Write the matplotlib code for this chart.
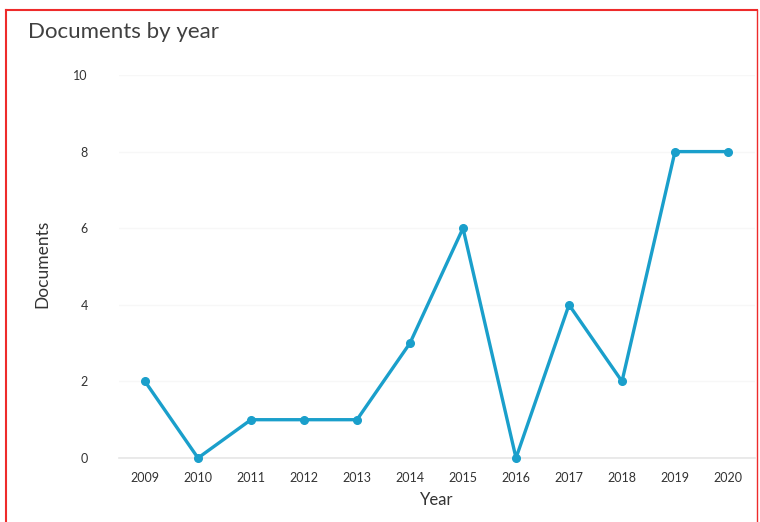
import matplotlib.pyplot as plt
from matplotlib.lines import Line2D

years = [2009, 2010, 2011, 2012, 2013, 2014, 2015, 2016, 2017, 2018, 2019, 2020]
documents = [2, 0, 1, 1, 1, 3, 6, 0, 4, 2, 8, 8]
y_ticks = [0, 2, 4, 6, 8, 10]

plt.rcParams['font.family'] = ['Lato', 'DejaVu Sans']

W, H = 760, 522
fig = plt.figure(figsize=(W / 100, H / 100), dpi=100)
ax = fig.add_axes([118.5 / W, 1 - 458 / H, 636 / W, 383 / H])

ax.plot(years, documents, color="#1a9fcb", lw=2.4, marker="o", ms=5.5,
        clip_on=False, zorder=3)

ax.set_xlim(2008.5, 2020.5)
ax.set_ylim(0, 10)
ax.set_xticks(years)
ax.set_xticklabels([str(y) for y in years], fontsize=9, color="#333333")
ax.set_yticks(y_ticks)
ax.set_yticklabels([str(t) for t in y_ticks], fontsize=9, color="#333333")
ax.tick_params(length=0, pad=10)
ax.tick_params(axis="y", pad=22)
for s in ["top", "right", "left"]:
    ax.spines[s].set_visible(False)
ax.spines["bottom"].set_color("#e6e6e6")
ax.spines["bottom"].set_linewidth(1.2)
ax.grid(axis="y", color="#f7f7f7", lw=1)
ax.set_axisbelow(True)

ax.set_xlabel("Year", fontsize=12, color="#333333", labelpad=6)
fig.text(42 / W, 1 - 264 / H, "Documents", rotation=90, fontsize=12.5,
         color="#333333", ha="center", va="center")
fig.text(28 / W, 1 - 32 / H, "Documents by year", fontsize=16,
         color="#404040", ha="left", va="center")

# red frame around the screenshot
red = "#ee2b2b"
fig.add_artist(Line2D([6 / W, 6 / W], [0, 1 - 10 / H], color=red, lw=1.5,
                      transform=fig.transFigure))
fig.add_artist(Line2D([6 / W, 757 / W], [1 - 10 / H, 1 - 10 / H], color=red,
                      lw=1.5, transform=fig.transFigure))
fig.add_artist(Line2D([757 / W, 757 / W], [0, 1 - 10 / H], color=red, lw=1.0,
                      transform=fig.transFigure))

fig.savefig("out.png", dpi=100)
